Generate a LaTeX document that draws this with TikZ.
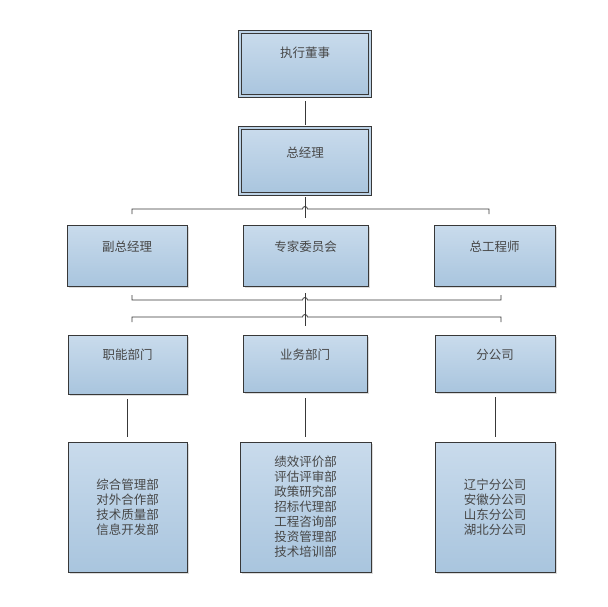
\documentclass[tikz,border=0pt]{standalone}
\usepackage{fontspec}
\newfontfamily\cjk{Noto Sans CJK SC}
\usetikzlibrary{shadows}
\definecolor{boxtop}{RGB}{201,219,236}
\definecolor{boxbot}{RGB}{169,197,222}
\colorlet{lncol}{black!78}
\colorlet{txcol}{black!72}

\begin{document}
\begin{tikzpicture}[x=1pt, y=-1pt,
    box/.style = {draw=lncol, line width=0.8pt, top color=boxtop, bottom color=boxbot, inner sep=0pt, align=center, text=txcol, font=\cjk\fontsize{12.5}{15}\selectfont, drop shadow={shadow xshift=2pt, shadow yshift=-2pt, fill=black!14, opacity=1}},
    top box/.style = {box, double=boxtop!60!boxbot, double distance=2pt, line width=0.7pt},
    unit/.style = {box, text height=24pt},
    conn/.style = {draw=lncol, line width=0.8pt}]
    \useasboundingbox (0,0) rectangle (608,606);

    \node[top box, minimum width=130pt, text height=25pt, text depth=39pt] (exec dir) at (305,64) {执行董事};
    \node[top box, minimum width=130pt, text height=29pt, text depth=37pt] (gen mgr) at (305,161) {总经理};

    \begin{scope}
        \node[box, minimum width=120pt, text height=26pt, text depth=35pt] (vice gm) at (127,255.5) {副总经理};
        \node[box, minimum width=125pt, text height=26pt, text depth=35pt] (expert) at (305.5,255.5) {专家委员会};
        \node[box, minimum width=121pt, text height=26pt, text depth=35pt] (chief eng) at (494.5,255.5) {总工程师};
    \end{scope}

    \begin{scope}
        \node[unit, minimum width=119pt, text depth=35pt] (func) at (127.5,364.5) {职能部门};
        \node[unit, minimum width=124pt, text depth=33pt] (biz) at (305,363.5) {业务部门};
        \node[unit, minimum width=120pt, text depth=33pt] (branch) at (495,363.5) {分公司};

        \node[box, minimum width=119pt, minimum height=130pt] (func list) at (127.5,507) {综合管理部\\对外合作部\\技术质量部\\信息开发部};
        \node[box, minimum width=131pt, minimum height=130pt] (biz list) at (305.5,507) {绩效评价部\\评估评审部\\政策研究部\\招标代理部\\工程咨询部\\投资管理部\\技术培训部};
        \node[box, minimum width=120pt, minimum height=130pt] (branch list) at (495,507) {辽宁分公司\\安徽分公司\\山东分公司\\湖北分公司};
    \end{scope}

    \coordinate (hub a) at (305,218);
    \coordinate (hub b) at (305,326);
    \coordinate (jump a) at (305,209);
    \coordinate (jump b) at (305,300);
    \coordinate (jump c) at (305,317);
    \coordinate (brk al) at (132,214);
    \coordinate (brk ar) at (489,214);
    \coordinate (brk bl) at (132,295);
    \coordinate (brk br) at (501,295);
    \coordinate (brk cl) at (132,322);
    \coordinate (brk cr) at (501,322);

    \draw[conn, shorten <=5pt, shorten >=3pt] (exec dir) -- (gen mgr);
    \draw[conn] ([yshift=-3pt]gen mgr.south) -- (hub a);
    \draw[conn] (brk al) -- (brk al |- jump a) -- ([xshift=-2.5pt]jump a) arc[start angle=180, end angle=360, radius=2.5] -- (brk ar |- jump a) -- (brk ar);

    \draw[conn] ([yshift=-7pt]expert.south -| hub b) -- (hub b);
    \draw[conn] (brk bl) -- (brk bl |- jump b) -- ([xshift=-2.5pt]jump b) arc[start angle=180, end angle=360, radius=2.5] -- (brk br |- jump b) -- (brk br);
    \draw[conn] (brk cl) -- (brk cl |- jump c) -- ([xshift=-2.5pt]jump c) arc[start angle=180, end angle=360, radius=2.5] -- (brk cr |- jump c) -- (brk cr);

    \draw[conn, shorten <=5pt, shorten >=5pt] (func) -- (func list);
    \draw[conn, shorten <=6pt, shorten >=5pt] (biz.south) -- (biz.south |- biz list.north);
    \draw[conn, shorten <=5pt, shorten >=5pt] (branch.south -| branch list.north) -- (branch list.north);
\end{tikzpicture}
\end{document}
